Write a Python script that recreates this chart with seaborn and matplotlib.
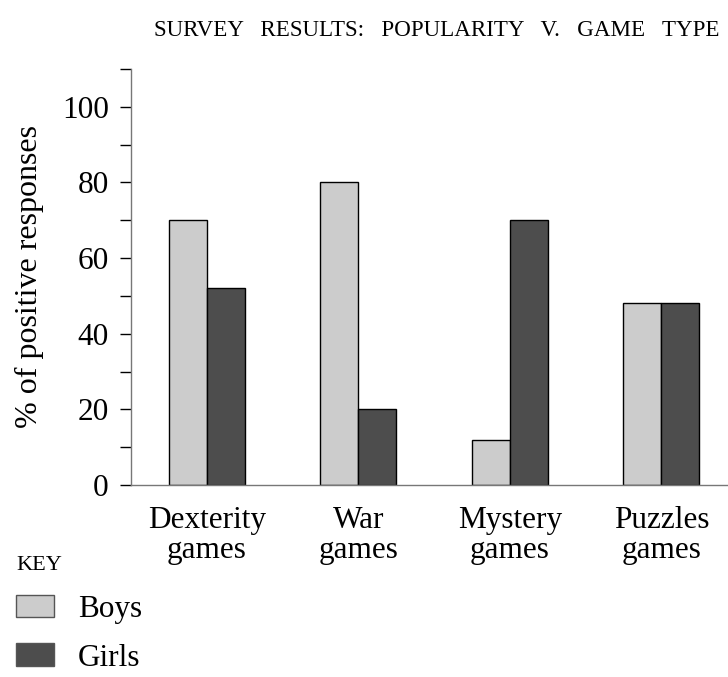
import matplotlib
matplotlib.use("Agg")
import matplotlib.pyplot as plt
from matplotlib.patches import Patch
from matplotlib.ticker import MultipleLocator
import pandas as pd
import seaborn as sns

games = ["Dexterity\ngames", "War\ngames", "Mystery\ngames", "Puzzles\ngames"]
boys = [70, 80, 12, 48]
girls = [52, 20, 70, 48]
groups = ["Boys", "Girls"]
colors = ["#cccccc", "#4d4d4d"]

df = pd.DataFrame({
    "game": games * 2,
    "group": ["Boys"] * len(games) + ["Girls"] * len(games),
    "value": boys + girls,
})

sns.set_theme(style="white")
plt.rcParams["font.family"] = ["Liberation Serif", "DejaVu Serif"]
plt.rcParams["text.color"] = "black"
plt.rcParams["axes.labelcolor"] = "black"
plt.rcParams["xtick.color"] = "black"
plt.rcParams["ytick.color"] = "black"

fig = plt.figure(figsize=(7.28, 6.77), dpi=100)
ax = fig.add_axes([131 / 728, 192 / 677, 1 - 131 / 728, 416 / 677])

sns.barplot(data=df, x="game", y="value", hue="group", order=games,
            hue_order=groups, palette=colors, width=0.5, edgecolor="black",
            linewidth=1, legend=False, ax=ax)

ax.set_xlim(-0.5, 3.44)
ax.set_ylim(0, 110)
ax.yaxis.set_major_locator(MultipleLocator(20))
ax.yaxis.set_minor_locator(MultipleLocator(10))
ax.set_xlabel("")
ax.set_ylabel("% of positive responses", fontsize=23, labelpad=13)

for s in ["top", "right"]:
    ax.spines[s].set_visible(False)
for s in ["left", "bottom"]:
    ax.spines[s].set_color("#777777")
    ax.spines[s].set_linewidth(1)

ax.tick_params(axis="y", which="both", direction="out", length=8, width=1,
               color="black", left=True, labelsize=22.5, pad=8)
ax.tick_params(axis="x", length=0, labelsize=22.5, pad=15)
for lab in ax.get_xticklabels():
    lab.set_linespacing(1.05)

fig.text(0.989, 0.955, "SURVEY   RESULTS:   POPULARITY   V.   GAME   TYPE",
         ha="right", va="center", fontsize=16.6)

handles = [Patch(facecolor=c, edgecolor="#555555", linewidth=1) for c in colors]
fig.legend(handles, groups, loc="upper left", bbox_to_anchor=(0.005, 0.197),
           frameon=False, title="KEY", title_fontsize=16, fontsize=22.5,
           handlelength=1.22, handleheight=0.75, handletextpad=0.75,
           labelspacing=0.62, alignment="left", borderaxespad=0)

fig.savefig("out.png", dpi=100)
